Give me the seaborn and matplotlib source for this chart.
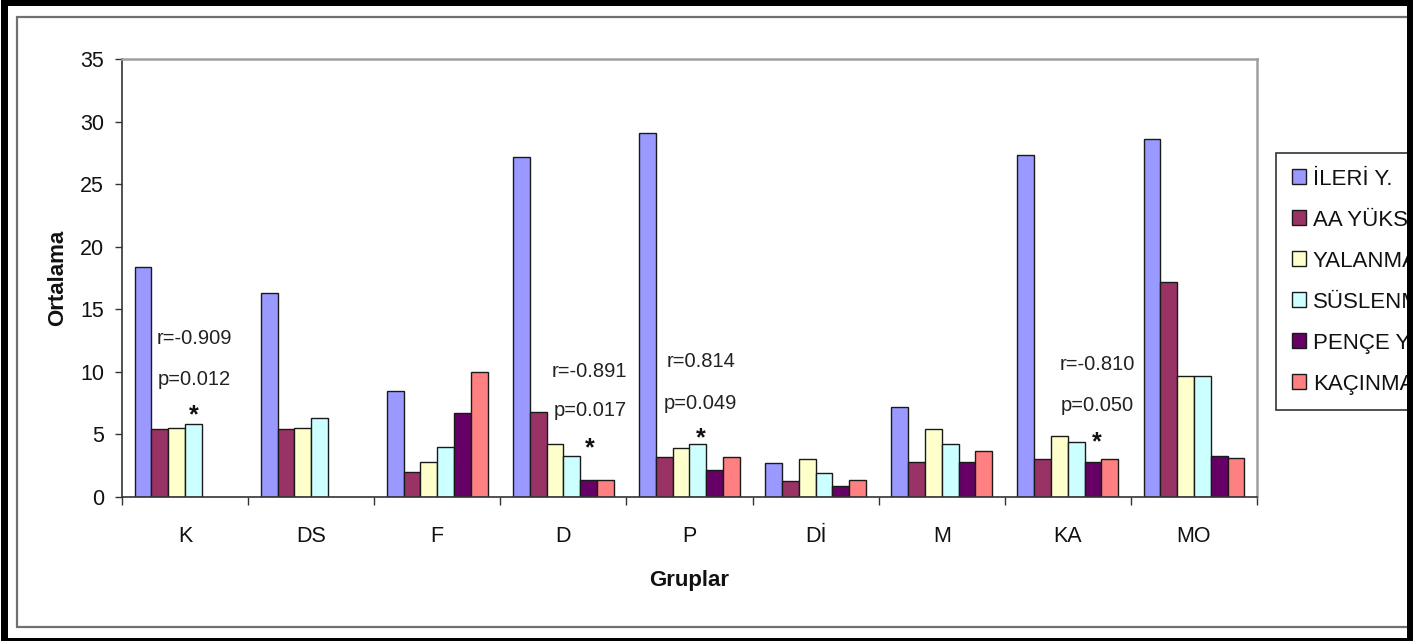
import numpy as np
import pandas as pd
import matplotlib
matplotlib.use("Agg")
import matplotlib.pyplot as plt
from matplotlib.patches import Rectangle
from matplotlib.lines import Line2D
import seaborn as sns

# ---------------- data ----------------
groups = ["K", "DS", "F", "D", "P", "Dİ", "M", "KA", "MO"]
series = ["İLERİ Y.", "AA YÜKS", "YALANMA", "SÜSLENM", "PENÇE Y", "KAÇINMA"]
ileri = [18.4, 16.3, 8.5, 27.2, 29.1, 2.7, 7.2, 27.3, 28.6]
aa_yuks = [5.4, 5.4, 2.0, 6.8, 3.2, 1.3, 2.8, 3.0, 17.2]
yalanma = [5.55, 5.55, 2.8, 4.2, 3.95, 3.0, 5.4, 4.9, 9.7]
suslenme = [5.8, 6.3, 4.0, 3.3, 4.25, 1.9, 4.25, 4.4, 9.7]
pence = [np.nan, np.nan, 6.7, 1.35, 2.15, 0.9, 2.8, 2.8, 3.3]
kacinma = [np.nan, np.nan, 9.95, 1.35, 3.2, 1.35, 3.7, 3.0, 3.15]
colors = ["#9999FF", "#993366", "#FFFFCC", "#CCFFFF", "#660066", "#FF8080"]

ann_groups = ["K", "D", "P", "KA"]
ann_r = ["r=-0.909", "r=-0.891", "r=0.814", "r=-0.810"]
ann_p = ["p=0.012", "p=0.017", "p=0.049", "p=0.050"]
ann_offset = [0.07, 0.21, 0.09, 0.23]
ann_r_y = [12.7, 10.0, 10.8, 10.55]
ann_p_y = [9.35, 6.9, 7.5, 7.3]
ann_star_y = [6.5, 3.9, 4.7, 4.4]

values = [ileri, aa_yuks, yalanma, suslenme, pence, kacinma]
df = pd.DataFrame({
    "Gruplar": np.tile(groups, len(series)),
    "Seri": np.repeat(series, len(groups)),
    "Ortalama": np.concatenate([np.array(v, dtype=float) for v in values]),
})

# ---------------- style ----------------
sns.set_theme(style="white")
plt.rcParams["font.family"] = ["Liberation Sans", "DejaVu Sans"]

W, H = 1427, 641
fig = plt.figure(figsize=(W / 100, H / 100), dpi=100)
fig.patch.set_facecolor("white")


def fx(px):
    return px / W


def fy(py):
    return 1 - py / H


ax = fig.add_axes([fx(122), fy(497), (1257 - 122) / W, (497 - 59) / H])

sns.barplot(data=df, x="Gruplar", y="Ortalama", hue="Seri", order=groups,
            hue_order=series, palette=colors, edgecolor="#1a1a1a",
            linewidth=1.0, saturation=1, errorbar=None, ax=ax, legend=True)

ax.set_xlim(-0.5, len(groups) - 0.5)
ax.set_ylim(0, 35)
ax.set_yticks(np.arange(0, 36, 5))
ax.tick_params(axis="y", which="major", left=True, length=5, width=1,
               direction="out", pad=8, labelsize=15.5, color="#333333",
               labelcolor="#111111")
ax.set_xticks(np.arange(len(groups)))
ax.set_xticklabels(groups)
ax.set_xticks(np.arange(len(groups) + 1) - 0.5, minor=True)
ax.tick_params(axis="x", which="major", bottom=True, length=0, pad=21,
               labelsize=15.5, labelcolor="#111111")
ax.tick_params(axis="x", which="minor", bottom=True, length=6, width=1,
               direction="out", color="#333333")

for s in ["left", "bottom"]:
    ax.spines[s].set_color("#333333")
    ax.spines[s].set_linewidth(1.2)
for s in ["top", "right"]:
    ax.spines[s].set_color("#a0a0a0")
    ax.spines[s].set_linewidth(1.8)

ax.set_xlabel("Gruplar", fontsize=16, fontweight="bold", color="#111111")
ax.set_ylabel("Ortalama", fontsize=16, fontweight="bold", color="#111111")
ax.xaxis.set_label_coords(0.5, -0.19)
ax.xaxis.label.set_verticalalignment("center")
ax.yaxis.set_label_coords(-0.057, 0.5)
ax.yaxis.label.set_verticalalignment("center")

# annotations
for g, r, p, off, ry, py, sy in zip(ann_groups, ann_r, ann_p, ann_offset,
                                    ann_r_y, ann_p_y, ann_star_y):
    xi = groups.index(g) + off
    ax.text(xi, ry, r, ha="center", va="center", fontsize=14.5, color="#222222")
    ax.text(xi, py, p, ha="center", va="center", fontsize=14.5, color="#222222")
    ax.text(xi, sy, "*", ha="center", va="center", fontsize=18,
            fontweight="bold", color="#111111")

# legend
handles, labels = ax.get_legend_handles_labels()
ax.legend(handles, labels, loc="upper left",
          bbox_to_anchor=(fx(1276), fy(153)), bbox_transform=fig.transFigure,
          borderaxespad=0, frameon=True, fancybox=False, edgecolor="#333333",
          fontsize=16, handlelength=0.65, handleheight=0.65, handletextpad=0.3,
          labelspacing=0.9, borderpad=0.7, framealpha=1)
leg = ax.get_legend()
leg.get_frame().set_linewidth(1.2)
for t in leg.get_texts():
    t.set_color("#111111")

# outer frames
fig.add_artist(Line2D([fx(17), fx(1407)], [fy(17), fy(17)], color="#707070",
                      lw=1.6, transform=fig.transFigure, zorder=4))
fig.add_artist(Line2D([fx(17), fx(17)], [fy(17), fy(627)], color="#707070",
                      lw=1.6, transform=fig.transFigure, zorder=4))
fig.add_artist(Line2D([fx(17), fx(1407)], [fy(627), fy(627)], color="#707070",
                      lw=1.6, transform=fig.transFigure, zorder=4))
# black border
for (x0, y0, x1, y1) in [(1, 0, 1413, 6), (1, 0, 8, 641), (1407, 0, 1413, 641),
                         (1, 638, 1413, 641)]:
    fig.add_artist(Rectangle((fx(x0), fy(y1)), fx(x1) - fx(x0), fy(y0) - fy(y1),
                             facecolor="black", edgecolor="none",
                             transform=fig.transFigure, zorder=6))
fig.add_artist(Rectangle((fx(1413), 0), fx(W) - fx(1413), 1,
                         facecolor="white", edgecolor="none",
                         transform=fig.transFigure, zorder=6))

fig.savefig("out.png", dpi=100)
